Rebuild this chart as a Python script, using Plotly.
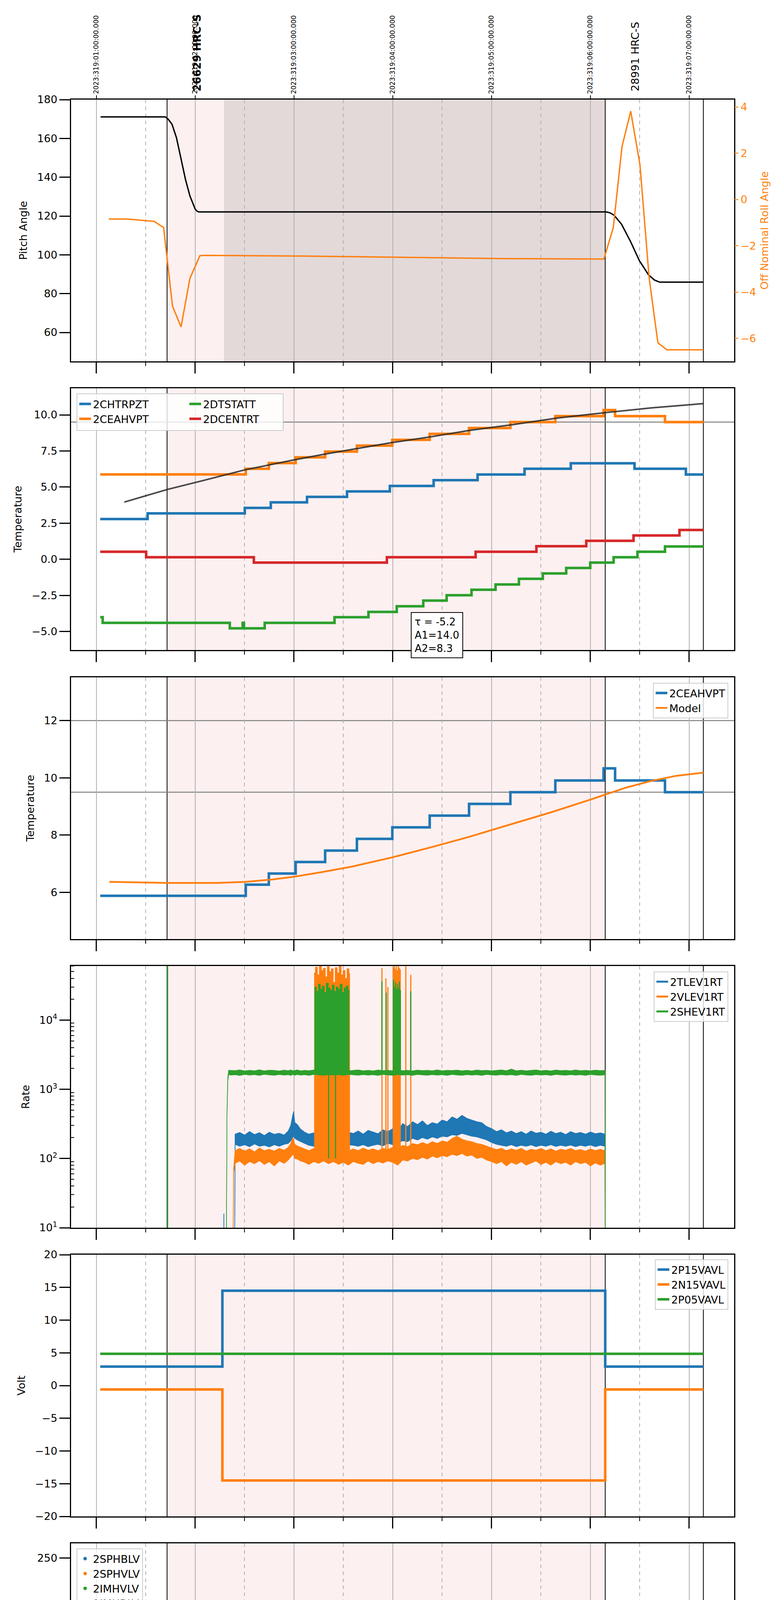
import numpy as np
import pandas as pd
import plotly.graph_objects as go

# time axis: minutes after 2023-11-14 20:00 local (= 2023:319:01:00:00 UTC)
T0 = pd.Timestamp('2023-11-14 20:00:00')
x_range_min = [-15.4, 387.3]

hour_min = [0, 60, 120, 180, 240, 300, 360]
utc_labels = ['2023:319:01:00:00.000', '2023:319:02:00:00.000', '2023:319:03:00:00.000',
              '2023:319:04:00:00.000', '2023:319:05:00:00.000', '2023:319:06:00:00.000',
              '2023:319:07:00:00.000']
half_hour_min = [30, 90, 150, 210, 270, 330]
obs_min = [61.0, 327.0]
obs_labels = ['<b>26629 HRC-S</b>', '28991 HRC-S']

pink_span = [42.9, 309.0]
slew_span = [77.5, 309.0]
event_min = [42.9, 309.0, 368.6]

# ---- panel 1: pitch / roll
pitch_t = [2.5, 41.8, 43.5, 45.9, 48.6, 51.4, 54.1, 56.8, 60.0, 61.2, 62.3,
           309.8, 312.0, 314.4, 318.9, 324.4, 329.8, 335.3, 338.9, 342.1, 368.6]
pitch_v = [171.1, 171.1, 170.0, 167.3, 160.4, 149.6, 138.8, 130.3, 123.5, 122.4, 122.1,
           122.1, 121.6, 120.4, 115.8, 106.8, 96.9, 89.7, 87.0, 85.9, 85.9]
roll_t = [7.5, 19.0, 29.6, 35.0, 40.8, 46.2, 51.4, 56.8, 62.9, 67.4, 124.9, 185.5, 246.0,
          308.2, 313.9, 319.2, 324.5, 330.1, 335.7, 341.0, 346.4, 368.6]
roll_v = [-0.84, -0.84, -0.91, -0.94, -1.21, -4.61, -5.50, -3.40, -2.42, -2.41, -2.44, -2.50, -2.55,
          -2.57, -1.21, 2.29, 3.82, 1.50, -3.40, -6.19, -6.49, -6.49]

# ---- panel 2: temperatures (step starts, values)
chtrpzt_t = [2.3, 31.1, 90.1, 105.9, 127.9, 152.2, 178.2, 204.8, 231.5, 260.0, 288.1, 326.8, 358.0, 368.6]
chtrpzt_v = [2.79, 3.18, 3.56, 3.94, 4.32, 4.70, 5.08, 5.48, 5.87, 6.27, 6.65, 6.27, 5.87, 5.87]
ceahvpt_t = [2.3, 90.7, 104.7, 121.0, 138.9, 158.2, 179.7, 202.4, 226.3, 251.4, 278.7, 308.0, 315.0, 345.3, 368.6]
ceahvpt_v = [5.88, 6.27, 6.66, 7.06, 7.46, 7.87, 8.27, 8.68, 9.09, 9.50, 9.91, 10.33, 9.91, 9.50, 9.50]
dtstatt_t = [2.3, 3.8, 81.0, 88.8, 89.6, 102.2, 144.6, 165.2, 182.4, 198.5, 212.7, 227.8, 242.4,
             256.6, 271.1, 285.3, 299.9, 314.1, 328.6, 345.3, 368.6]
dtstatt_v = [-4.01, -4.40, -4.78, -4.40, -4.78, -4.40, -4.01, -3.64, -3.25, -2.86, -2.49, -2.11, -1.74,
             -1.35, -0.98, -0.60, -0.23, 0.14, 0.52, 0.89, 0.89]
dcentrt_t = [2.3, 30.2, 95.6, 176.4, 230.3, 267.2, 297.5, 326.2, 354.1, 368.6]
dcentrt_v = [0.52, 0.14, -0.23, 0.14, 0.52, 0.91, 1.28, 1.65, 2.03, 2.03]
fit_t = [16.9, 43.2, 64.4, 90.1, 120.4, 140.1, 179.4, 203.6, 226.3, 252.1, 279.3, 309.6, 336.8, 368.6]
fit_v = [3.96, 4.84, 5.44, 6.19, 6.89, 7.31, 8.08, 8.49, 8.92, 9.31, 9.77, 10.16, 10.48, 10.78]
fit_text = 'τ = -5.2<br>A1=14.0<br>A2=8.3'

# ---- panel 3: 2CEAHVPT vs model
model_t = [7.8, 31.1, 43.2, 73.5, 90.7, 106.8, 120.4, 137.0, 155.2, 179.4, 203.6, 226.3, 251.4,
           276.3, 300.5, 321.7, 336.8, 352.0, 368.6]
model_v = [6.37, 6.35, 6.33, 6.33, 6.37, 6.45, 6.55, 6.71, 6.90, 7.22, 7.58, 7.94, 8.37,
           8.80, 9.25, 9.66, 9.89, 10.07, 10.18]

# ---- panel 4: rates (noisy bands read as lower / upper envelopes)
band_t = [84.2, 87, 90, 93, 96, 99, 102, 105, 108, 111,
          114, 116.5, 118, 119.2, 119.8, 120.5, 122, 124, 126.5, 129,
          132, 135, 138, 141, 144, 147, 150, 153, 156, 159,
          162, 165, 168, 171, 174, 177, 180, 183, 186, 189,
          192, 195, 198, 201, 204, 207, 210, 213, 216, 219,
          222, 225, 228, 231, 234, 237, 240, 243, 246, 249,
          252, 255, 258, 261, 264, 267, 270, 273, 276, 279,
          282, 285, 288, 291, 294, 297, 300, 303, 306, 308.9]
tlev_hi = [225, 238, 218, 245, 222, 236, 215, 240, 224, 232,
           218, 250, 300, 420, 480, 330, 310, 265, 240, 225,
           235, 228, 240, 222, 235, 230, 225, 240, 230, 250,
           225, 255, 240, 228, 260, 245, 270, 250, 320, 290,
           340, 310, 350, 300, 330, 315, 360, 340, 400, 370,
           420, 380, 360, 340, 330, 290, 270, 245, 260, 235,
           250, 230, 245, 225, 250, 232, 240, 225, 248, 230,
           240, 222, 245, 230, 238, 225, 242, 228, 235, 225]
tlev_lo = [160, 150, 158, 148, 162, 150, 155, 147, 158, 150,
           160, 165, 180, 200, 210, 195, 185, 175, 165, 155,
           150, 155, 150, 158, 152, 155, 150, 157, 155, 150,
           158, 148, 155, 160, 152, 165, 158, 170, 180, 175,
           195, 185, 200, 190, 205, 195, 210, 205, 220, 215,
           230, 220, 210, 205, 195, 185, 170, 160, 155, 150,
           158, 148, 155, 150, 157, 148, 155, 150, 158, 149,
           155, 150, 156, 148, 155, 150, 157, 148, 155, 150]
vlev_hi = [130, 140, 128, 138, 125, 142, 130, 136, 128, 140,
           132, 145, 165, 200, 185, 160, 152, 145, 138, 130,
           140, 132, 138, 128, 136, 130, 140, 128, 138, 130,
           142, 132, 138, 130, 140, 135, 145, 138, 155, 148,
           165, 158, 170, 160, 175, 165, 180, 172, 195, 210,
           190, 180, 175, 165, 160, 150, 142, 135, 140, 130,
           138, 132, 140, 128, 136, 132, 140, 130, 138, 128,
           136, 132, 140, 130, 135, 128, 138, 130, 136, 130]
vlev_lo = [85, 92, 80, 90, 84, 93, 82, 90, 78, 92,
           85, 95, 105, 115, 110, 100, 98, 92, 88, 82,
           90, 85, 92, 84, 90, 82, 88, 80, 90, 85,
           82, 92, 84, 90, 86, 92, 88, 80, 95, 92,
           100, 96, 104, 98, 108, 102, 110, 106, 115, 110,
           118, 108, 112, 100, 104, 95, 90, 84, 90, 78,
           88, 82, 90, 80, 86, 92, 82, 88, 80, 90,
           84, 88, 80, 90, 84, 88, 78, 86, 80, 85]
shev_lo = [1620, 1580, 1640, 1600, 1630, 1585, 1645, 1610, 1590, 1635,
           1600, 1625, 1580, 1640, 1610, 1595, 1630, 1600, 1620, 1585,
           1640, 1605, 1590, 1630, 1600, 1620, 1585, 1640, 1610, 1595,
           1630, 1600, 1620, 1585, 1640, 1605, 1590, 1630, 1600, 1620,
           1585, 1640, 1610, 1595, 1630, 1600, 1620, 1585, 1640, 1605,
           1590, 1630, 1600, 1620, 1585, 1640, 1610, 1595, 1630, 1600,
           1620, 1585, 1640, 1605, 1590, 1630, 1600, 1620, 1585, 1640,
           1610, 1595, 1630, 1600, 1620, 1585, 1640, 1605, 1590, 1620]
shev_hi = [1860, 1900, 1840, 1880, 1850, 1910, 1845, 1885, 1870, 1835,
           1890, 1855, 1900, 1845, 1875, 1860, 1905, 1840, 1880, 1855,
           1895, 1850, 1870, 1840, 1900, 1860, 1885, 1845, 1875, 1900,
           1850, 1880, 1840, 1895, 1860, 1875, 1845, 1905, 1855, 1880,
           1840, 1890, 1860, 1875, 1850, 1900, 1845, 1880, 1865, 1890,
           1850, 1875, 1840, 1895, 1860, 1880, 1845, 1870, 1900, 1855,
           1960, 1850, 1885, 1845, 1875, 1900, 1850, 1880, 1840, 1895,
           1860, 1875, 1845, 1900, 1855, 1880, 1850, 1890, 1860, 1875]
tlev_rise_t, tlev_rise_v = [84.0], [5]
vlev_rise_t, vlev_rise_lo, vlev_rise_hi = [83.0, 83.3], [5, 60], [5, 70]
shev_rise_t = [78.9, 79.3, 79.8, 80.3, 82.0]
shev_rise_lo = [5, 400, 1300, 1620, 1600]
shev_rise_hi = [5, 500, 1500, 1880, 1870]
rate_end_t, rate_end_v = [309.0], [5]
vlev_burst_t = [132.4, 133.0, 134.2, 135.4, 136.6, 137.8, 139.0, 140.2, 141.4, 142.6,
                143.8, 145.0, 146.2, 147.4, 148.6, 149.8, 151.0, 152.2, 153.4, 153.8]
vlev_burst_top = [48000, 58000, 45000, 60000, 52000, 56000, 42000, 59000, 50000, 55000,
                  35000, 57000, 48000, 60000, 45000, 52000, 40000, 55000, 47000, 30000]
shev_burst_t = [132.6, 133.6, 134.8, 136.0, 137.2, 138.4, 139.6, 140.8, 142.0, 143.2,
                144.4, 145.6, 146.8, 148.0, 149.2, 150.4, 151.6, 152.8, 153.4]
shev_burst_top = [30000, 26000, 33000, 28000, 31000, 25000, 34000, 29000, 27000, 32000,
                  26000, 30000, 28000, 33000, 25000, 29000, 31000, 27000, 24000]
vlev_spike_t = [173.4, 175.8, 177.0, 180.3, 180.9, 181.5, 182.1, 182.7, 183.3, 183.9, 184.5, 187.9, 190.9]
vlev_spike_top = [56000, 40000, 30000, 58000, 62000, 55000, 60000, 52000, 61000, 57000, 54000, 60000, 45000]
shev_spike_t = [43.2, 173.4, 176.0, 180.4, 181.0, 181.6, 182.2, 182.8, 183.4, 184.0, 184.6, 190.9]
shev_spike_lo = [5, 1700, 1700, 1700, 1700, 1700, 1700, 1700, 1700, 1700, 1700, 1700]
shev_spike_top = [1e6, 36000, 25000, 38000, 30000, 35000, 28000, 33000, 29000, 36000, 27000, 26000]
shev_dip_t, shev_dip_v = [141.0, 145.2], [100, 100]
tlev_blip_t, tlev_blip_v = [77.4], [16]

# ---- panel 5: voltages
volt_t = [2.3, 76.5, 309.0, 368.6]
p15vavl_v = [2.9, 14.5, 2.9, 2.9]
n15vavl_v = [-0.6, -14.5, -0.6, -0.6]
p05_t, p05vavl_v = [2.3, 368.6], [4.85, 4.85]

# ---- panel 6: HV monitor (turn-on decay, then plateau)
hv_on_t = [78.8, 79.2, 79.6, 80.0, 80.5, 81.0, 81.6, 82.2, 83.0, 84.0]
sphblv_on = [126, 118, 110, 103, 96, 90, 86, 82, 79, 77.5]
sphvlv_on = [124, 115, 107, 99, 92, 86, 81, 77, 74, 72]
hv_plateau_t = [84.0, 309.0]
sphblv_plateau = [77.5, 77.5]
sphvlv_plateau = [71.5, 71.5]
sphvlv_out_t = [131.7, 138.2, 150.2, 182.7, 187.3, 191.0, 195.7]
sphvlv_out_v = [127, 127, 127, 127, 127, 127, 127]

# ---- panel 7: detector temps
spinatm_t = [77.4, 81.7, 85.3, 85.9, 199.1, 254.2, 302.3, 309.0]
spinatm_v = [2.81, 3.27, 2.81, 3.27, 3.69, 4.15, 4.60, 4.60]
sphvatm_t = [77.4, 86.2, 90.7, 95.3, 99.8, 104.3, 109.8, 115.2, 121.3, 128.6, 137.0, 145.5, 155.2,
             166.7, 179.4, 192.1, 208.2, 224.8, 243.0, 263.3, 286.9, 309.0]
sphvatm_v = [14.99, 15.26, 15.55, 15.84, 16.13, 16.40, 16.69, 16.97, 17.25, 17.53, 17.81, 18.11, 18.40,
             18.68, 18.97, 19.27, 19.58, 19.86, 20.15, 20.47, 20.79, 20.79]
iminatm_t = [77.4, 116.2, 116.8, 243.0, 296.5, 309.0]
iminatm_v = [1.09, 0.60, 1.09, 1.50, 1.95, 1.95]
imhvatm_t = [77.39, 77.4, 102.8, 124.0, 142.2, 158.8, 176.7, 195.2, 215.7, 233.9, 255.1, 277.2, 300.5,
             309.0, 309.2, 309.5]
imhvatm_v = [-5, 14.43, 14.70, 14.99, 15.26, 15.55, 15.84, 16.13, 16.40, 16.69, 16.97, 17.25, 17.53,
             17.53, 40, -5]
glitch1_t = [132.0, 133.6, 136.8, 137.6, 138.4, 139.2, 140.0, 140.8, 141.6, 143.2,
             144.0, 144.8, 145.6, 146.4, 147.2, 148.0, 148.8, 149.6, 153.4]
glitch2_t = [173.4, 175.6, 180.2, 181.0, 181.8, 182.6, 183.4, 184.2, 185.0, 187.9, 190.9]
spinatm_glitch = [-1.0, -1.0]
sphvatm_glitch = [10.5, 11.0]
iminatm_glitch = [3.35, 3.35]
imhvatm_glitch = [18.2, 19.05]
sphvatm_drop_t, sphvatm_drop_v = [144.6], [0.7]

# ---- panel 8: FEA temps
fhtrmzt_t = [47.6, 47.7, 89.2, 96.8, 104.7, 111.9, 119.8, 127.0, 134.6, 142.2, 150.0, 157.6, 166.4,
             174.3, 182.4, 190.9, 200.0, 208.5, 211.9, 212.3, 216.9, 217.3, 226.3, 235.4, 245.1,
             255.1, 264.2, 274.2, 284.4, 294.4, 305.0, 337.4, 357.4, 368.6]
fhtrmzt_v = [-9.0, -7.99, -7.58, -7.18, -6.78, -6.38, -5.98, -5.59, -5.20, -4.80, -4.41, -4.02, -3.64,
             -3.26, -2.88, -2.49, -2.11, -1.73, -0.57, -1.73, -2.55, -1.35, -0.96, -0.59, -0.22,
             0.16, 0.53, 0.91, 1.28, 1.66, 2.03, 1.66, 1.28, 1.28]
fradpyt_t = [110.0, 110.1, 118.0, 125.5, 134.0, 142.2, 150.0, 158.2, 166.7, 175.5, 184.6, 193.0, 202.1,
             211.8, 221.2, 230.9, 240.6, 251.1, 261.1, 271.7, 282.3, 294.4, 305.3, 320.2, 328.6, 358.6, 368.6]
fradpyt_v = [-9.0, -7.99, -7.58, -7.18, -6.78, -6.38, -5.98, -5.59, -5.20, -4.80, -4.41, -4.02, -3.64,
             -3.26, -2.88, -2.49, -2.11, -1.73, -1.35, -0.96, -0.59, -0.22, 0.16, -0.22, -0.59, -0.96, -0.96]
fepratm_t = [78.85, 78.9, 80.0, 81.0, 83.2, 85.6, 90.7, 95.3, 100.1, 106.8, 113.4, 121.0, 128.6, 137.0,
             146.1, 152.2, 159.7, 167.3, 177.9, 185.5, 194.6, 206.1, 215.7, 227.2, 236.9, 249.0,
             260.5, 271.7, 284.7, 297.5, 309.0]
fepratm_v = [-9.0, -7.07, -6.68, -6.24, -5.81, -5.46, -5.05, -4.63, -4.24, -3.84, -3.41, -3.00, -2.62, -2.25,
             -1.83, -1.40, -1.02, -0.61, -0.17, 0.22, 0.67, 1.09, 1.53, 1.94, 2.38, 2.81,
             3.25, 3.71, 4.15, 4.60, 4.60]
fe00atm_t = [77.39, 77.4, 82.6, 90.4, 95.6, 100.7, 106.8, 111.6, 116.5, 121.3, 128.0, 135.5, 141.6,
             152.2, 158.2, 164.3, 170.9, 178.8, 185.5, 191.5, 197.6, 205.5, 212.7, 219.4, 227.2,
             233.9, 241.5, 249.6, 258.1, 264.8, 273.3, 280.8, 297.5, 309.0, 309.2, 309.5]
fe00atm_v = [-9.0, -5.98, -5.59, -5.24, -4.85, -4.54, -4.24, -3.83, -3.45, -3.10, -2.77, -2.45, -1.88,
             -1.42, -1.09, -0.74, -0.45, -0.17, 0.22, 0.52, 0.81, 1.14, 1.44, 1.77, 2.07,
             2.36, 2.66, 2.99, 3.28, 3.55, 3.87, 4.15, 4.45, 4.45, 10.0, -10.0]
fepratm_glitch = [-4.67, -4.67]
fe00atm_glitch = [10.0, 10.0]
fe00atm_full_t = [141.0, 145.2]
fe00atm_blip_t = [98.6, 124.0, 205.8, 230.9, 249.2, 267.2]
fe00atm_blip_v = [-5.2, -4.6, 1.75, 2.75, 3.3, 2.9]

BLUE, ORANGE, GREEN, RED = '#1f77b4', '#ff7f0e', '#2ca02c', '#d62728'
FONT = 'DejaVu Sans'

# layout geometry (pixels in a 2000 x 6200 page)
panel_tops = [247, 986, 1726, 2465, 3204, 3943, 4682, 5421]
panel_h, plot_bottom, plot_h = 670, 6091, 5844


def ptop(i):
    return panel_tops[i - 1]


def T(mins):
    return list(T0 + pd.to_timedelta(np.asarray(mins, dtype=float), unit='min'))


def at(m):
    return T0 + pd.Timedelta(minutes=float(m))


def ax(i):
    return ('x' if i == 1 else f'x{i}'), ('y' if i == 1 else f'y{i}')


def py(p):
    return (plot_bottom - p) / plot_h


def px(p):
    return (p - 174) / 1698


fig = go.Figure()


def line(i, t, v, color, width, name=None, legend='legend', shape='linear', yaxis=None):
    xa, ya = ax(i)
    fig.add_trace(go.Scatter(x=T(t), y=v, mode='lines', name=name, legend=legend,
                             showlegend=name is not None, hoverinfo='skip',
                             line=dict(color=color, width=width, shape=shape),
                             xaxis=xa, yaxis=yaxis or ya))


def segments(i, t, y0, y1, color, width):
    xa, ya = ax(i)
    xs, ys = [], []
    for a, b, c in zip(t, y0, y1):
        xs += [at(a), at(a), None]
        ys += [b, c, None]
    fig.add_trace(go.Scatter(x=xs, y=ys, mode='lines', showlegend=False, hoverinfo='skip',
                             line=dict(color=color, width=width), xaxis=xa, yaxis=ya))


def band(i, t, lo, hi, color):
    xa, ya = ax(i)
    fig.add_trace(go.Scatter(x=T(t), y=lo, mode='lines', showlegend=False, hoverinfo='skip',
                             line=dict(color=color, width=1.5), xaxis=xa, yaxis=ya))
    fig.add_trace(go.Scatter(x=T(t), y=hi, mode='lines', showlegend=False, hoverinfo='skip',
                             line=dict(color=color, width=1.5), fill='tonexty', fillcolor=color,
                             xaxis=xa, yaxis=ya))


def burst(i, t, top, base, color):
    xa, ya = ax(i)
    fig.add_trace(go.Scatter(x=T([t[0]] + t + [t[-1]]), y=[base] + top + [base], mode='lines',
                             fill='toself', fillcolor=color, showlegend=False, hoverinfo='skip',
                             line=dict(color=color, width=1.5, shape='hv'), xaxis=xa, yaxis=ya))


def step_at(ts, vs, t):
    k = int(np.searchsorted(ts, t, side='right')) - 1
    return vs[max(k, 0)]


def glitches(i, ts, vs, ext, color, width=5):
    for g, e in zip([glitch1_t, glitch2_t], ext):
        segments(i, g, [step_at(ts, vs, t) for t in g], [e] * len(g), color, width)


# panel 1
line(1, pitch_t, pitch_v, 'black', 3.5)
line(1, roll_t, roll_v, ORANGE, 3.5, yaxis='y9')
fig.add_trace(go.Scatter(x=[None], y=[None], mode='lines', showlegend=False, xaxis='x9', yaxis='y'))

# panel 2
line(2, chtrpzt_t, chtrpzt_v, BLUE, 6.5, '2CHTRPZT', 'legend', 'hv')
line(2, ceahvpt_t, ceahvpt_v, ORANGE, 6.5, '2CEAHVPT', 'legend', 'hv')
line(2, dtstatt_t, dtstatt_v, GREEN, 6.5, '2DTSTATT', 'legend2', 'hv')
line(2, dcentrt_t, dcentrt_v, RED, 6.5, '2DCENTRT', 'legend2', 'hv')
line(2, fit_t, fit_v, 'rgba(40,40,40,0.85)', 4)

# panel 3
line(3, ceahvpt_t, ceahvpt_v, BLUE, 6.5, '2CEAHVPT', 'legend3', 'hv')
line(3, model_t, model_v, ORANGE, 4.5, 'Model', 'legend3')

# panel 4
band(4, tlev_rise_t + band_t + rate_end_t, tlev_rise_v + tlev_lo + rate_end_v,
     tlev_rise_v + tlev_hi + rate_end_v, BLUE)
segments(4, tlev_blip_t, [5], tlev_blip_v, BLUE, 2)
band(4, vlev_rise_t + band_t + rate_end_t, vlev_rise_lo + vlev_lo + rate_end_v,
     vlev_rise_hi + vlev_hi + rate_end_v, ORANGE)
burst(4, vlev_burst_t, vlev_burst_top, 100, ORANGE)
segments(4, vlev_spike_t, [100] * len(vlev_spike_t), vlev_spike_top, ORANGE, 3)
band(4, shev_rise_t + band_t + rate_end_t, shev_rise_lo + shev_lo + rate_end_v,
     shev_rise_hi + shev_hi + rate_end_v, GREEN)
burst(4, shev_burst_t, shev_burst_top, 1700, GREEN)
segments(4, shev_spike_t, shev_spike_lo, shev_spike_top, GREEN, 3)
segments(4, shev_dip_t, [1700, 1700], shev_dip_v, GREEN, 3)
for name, c in [('2TLEV1RT', BLUE), ('2VLEV1RT', ORANGE), ('2SHEV1RT', GREEN)]:
    fig.add_trace(go.Scatter(x=[None], y=[None], mode='lines', name=name, legend='legend4',
                             line=dict(color=c, width=5), xaxis='x4', yaxis='y4'))

# panel 5
line(5, volt_t, p15vavl_v, BLUE, 6.5, '2P15VAVL', 'legend5', 'hv')
line(5, volt_t, n15vavl_v, ORANGE, 6.5, '2N15VAVL', 'legend5', 'hv')
line(5, p05_t, p05vavl_v, GREEN, 6.5, '2P05VAVL', 'legend5', 'hv')

# panel 6
hv_series = [('2SPHBLV', BLUE, hv_on_t, sphblv_on, sphblv_plateau, [], []),
             ('2SPHVLV', ORANGE, hv_on_t, sphvlv_on, sphvlv_plateau, sphvlv_out_t, sphvlv_out_v),
             ('2IMHVLV', GREEN, [], [], None, [], []),
             ('2IMHBLV', RED, [], [], None, [], [])]
for name, c, t_on, v_on, plat, t_out, v_out in hv_series:
    fig.add_trace(go.Scatter(x=T(t_on + t_out) if t_on else [None], y=(v_on + v_out) if t_on else [None],
                             mode='markers', name=name, legend='legend6', hoverinfo='skip',
                             marker=dict(color=c, size=9), xaxis='x6', yaxis='y6'))
    if plat:
        line(6, hv_plateau_t, plat, c, 10)

# panel 7
line(7, spinatm_t, spinatm_v, BLUE, 6.5, '2SPINATM', 'legend7', 'hv')
glitches(7, spinatm_t, spinatm_v, spinatm_glitch, BLUE)
line(7, sphvatm_t, sphvatm_v, ORANGE, 6.5, '2SPHVATM', 'legend7', 'hv')
glitches(7, sphvatm_t, sphvatm_v, sphvatm_glitch, ORANGE)
segments(7, sphvatm_drop_t, [10.5], sphvatm_drop_v, ORANGE, 2.5)
line(7, iminatm_t, iminatm_v, GREEN, 6.5, '2IMINATM', 'legend7', 'hv')
glitches(7, iminatm_t, iminatm_v, iminatm_glitch, GREEN)
line(7, imhvatm_t, imhvatm_v, RED, 6.5, '2IMHVATM', 'legend7', 'hv')
glitches(7, imhvatm_t, imhvatm_v, imhvatm_glitch, RED)

# panel 8
line(8, fhtrmzt_t, fhtrmzt_v, BLUE, 6.5, '2FHTRMZT', 'legend8', 'hv')
line(8, fradpyt_t, fradpyt_v, ORANGE, 6.5, '2FRADPYT', 'legend8', 'hv')
line(8, fepratm_t, fepratm_v, GREEN, 6.5, '2FEPRATM', 'legend8', 'hv')
glitches(8, fepratm_t, fepratm_v, fepratm_glitch, GREEN)
line(8, fe00atm_t, fe00atm_v, RED, 6.5, '2FE00ATM', 'legend8', 'hv')
glitches(8, fe00atm_t, fe00atm_v, fe00atm_glitch, RED)
segments(8, fe00atm_full_t, [-10, -10], [10, 10], RED, 5)
segments(8, fe00atm_blip_t, [step_at(fe00atm_t, fe00atm_v, t) for t in fe00atm_blip_t], fe00atm_blip_v, RED, 4)

# ---------------- axes ----------------
x_range = [at(x_range_min[0]), at(x_range_min[1])]
log_minor = [k * 10 ** e for e in range(1, 5) for k in range(2, 10)]
y_specs = {
    1: dict(title='Pitch Angle', range=[45.1, 180], dtick=20, tick0=0),
    2: dict(title='Temperature', range=[-6.28, 11.84], dtick=2.5, tick0=0, tickformat='.1f'),
    3: dict(title='Temperature', range=[4.37, 13.51], dtick=2, tick0=0),
    4: dict(title='Rate', type='log', range=[1, 4.78], tickmode='array', tickvals=[10, 100, 1000, 10000],
            ticktext=['10<sup>1</sup>', '10<sup>2</sup>', '10<sup>3</sup>', '10<sup>4</sup>'],
            minor=dict(ticks='inside', ticklen=8, tickwidth=1.5, tickcolor='black',
                       tickmode='array', tickvals=log_minor)),
    5: dict(title='Volt', range=[-20, 20], dtick=5, tick0=0),
    6: dict(title='HV Monitor', range=[0, 265], dtick=50, tick0=0),
    7: dict(title='Detector Temp', range=[-0.43, 21.6], dtick=2.5, tick0=0, tickformat='.1f'),
    8: dict(title='FEA Temp', range=[-8.28, 4.41], dtick=2, tick0=0),
}
axes = {}
for i in range(1, 9):
    xa, ya = ax(i)
    top = ptop(i)
    dom = [py(top + panel_h), py(top)]
    axes['xaxis' if i == 1 else f'xaxis{i}'] = dict(
        domain=[0, 1], anchor=ya, type='date', range=x_range,
        tick0=at(0), dtick=3600000, tickformat='%Hh', ticks='outside', ticklen=28, tickwidth=3,
        tickcolor='black', showticklabels=(i == 8), tickfont=dict(size=27),
        showgrid=True, gridcolor='#b0b0b0', gridwidth=1.5,
        minor=dict(tick0=at(0), dtick=1800000, ticks='outside', ticklen=9, tickwidth=2,
                   tickcolor='black', showgrid=True, gridcolor='#b0b0b0', gridwidth=1.5,
                   griddash='dash'),
        showline=True, linecolor='black', linewidth=2.5, mirror=True, zeroline=False,
        automargin=False)
    spec = dict(y_specs[i])
    title = spec.pop('title')
    axes['yaxis' if i == 1 else f'yaxis{i}'] = dict(
        domain=dom, anchor=xa, ticks='outside', ticklen=27, tickwidth=3, tickcolor='black',
        tickfont=dict(size=27), showgrid=False, zeroline=False, showline=True,
        linecolor='black', linewidth=2.5, mirror=True, automargin=False,
        title=dict(text=title, font=dict(size=27), standoff=18), **spec)
axes['xaxis8']['title'] = dict(text='2023-11-15 (319)', font=dict(size=28), standoff=12)
axes['xaxis8']['ticklabelstandoff'] = -8

axes['xaxis9'] = dict(overlaying='x', side='top', anchor='y', type='date', range=x_range,
                      tickmode='array', tickvals=T(hour_min), ticktext=utc_labels, tickangle=-90,
                      ticks='outside', ticklen=10, tickwidth=2, tickcolor='black',
                      tickfont=dict(size=17), showgrid=False, showline=False, zeroline=False,
                      automargin=False)
axes['yaxis9'] = dict(overlaying='y', side='right', anchor='x', range=[-6.99, 4.32],
                      tickmode='array', tickvals=[-6, -4, -2, 0, 2, 4], ticks='outside', ticklen=10,
                      tickwidth=2, tickcolor=ORANGE, tickfont=dict(size=27, color=ORANGE),
                      showgrid=False, showline=False, zeroline=False, automargin=False,
                      title=dict(text='Off Nominal Roll Angle', font=dict(size=27, color=ORANGE),
                                 standoff=12))

# ---------------- shapes ----------------
shapes = []
for i in range(1, 9):
    xa, ya = ax(i)
    shapes.append(dict(type='rect', xref=xa, yref=f'{ya} domain', x0=at(pink_span[0]), x1=at(pink_span[1]),
                       y0=0, y1=1, fillcolor='#fdf0f0', line=dict(width=0), layer='below'))
    if i == 1:
        shapes.append(dict(type='rect', xref=xa, yref=f'{ya} domain', x0=at(slew_span[0]),
                           x1=at(slew_span[1]), y0=0, y1=1, fillcolor='#e3d9d9',
                           line=dict(width=0), layer='below'))
    for e in event_min:
        shapes.append(dict(type='line', xref=xa, yref=f'{ya} domain', x0=at(e), x1=at(e), y0=0, y1=1,
                           line=dict(color='black', width=2), layer='below'))
for xref, yref, yv in [('x2 domain', 'y2', 9.5), ('x3 domain', 'y3', 12), ('x3 domain', 'y3', 9.5)]:
    shapes.append(dict(type='line', xref=xref, yref=yref, x0=0, x1=1, y0=yv, y1=yv,
                       line=dict(color='#808080', width=2.5), layer='below'))
shapes.append(dict(type='rect', xref='paper', yref='paper', x0=px(189), x1=px(717),
                   y0=py(ptop(2) + 108), y1=py(ptop(2) + 14),
                   fillcolor='rgba(255,255,255,0.8)', line=dict(color='#cccccc', width=2), layer='above'))

# ---------------- annotations ----------------
annotations = [dict(xref='paper', yref='paper', x=px(1044), y=py(ptop(2) + 573), xanchor='left', yanchor='top',
                    text=fit_text, align='left', showarrow=False, font=dict(size=26),
                    bgcolor='white', bordercolor='black', borderwidth=2, borderpad=8)]
for m, txt in zip(obs_min, obs_labels):
    annotations.append(dict(xref='x', yref='y domain', x=at(m), y=1, yshift=19, xanchor='center',
                            yanchor='bottom', text=txt, textangle=-90, showarrow=False,
                            font=dict(size=27)))
for m in half_hour_min:
    annotations.append(dict(xref='x8', yref='y8 domain', x=at(m), y=0, yshift=-4, xanchor='center',
                            yanchor='top', text='30', showarrow=False, font=dict(size=16)))

leg = dict(font=dict(size=27), bgcolor='rgba(255,255,255,0.8)', bordercolor='#cccccc', borderwidth=2,
           tracegroupgap=0, traceorder='normal')
fig.update_layout(
    width=2000, height=6200, template='none',
    margin=dict(l=174, r=128, t=247, b=109),
    font=dict(family=FONT, size=27, color='black'),
    plot_bgcolor='white', paper_bgcolor='white',
    shapes=shapes, annotations=annotations,
    legend=dict(x=px(190), y=py(ptop(2) + 16), xanchor='left', yanchor='top', font=dict(size=27),
                bgcolor='rgba(0,0,0,0)', borderwidth=0, traceorder='normal'),
    legend2=dict(x=px(472), y=py(ptop(2) + 16), xanchor='left', yanchor='top', font=dict(size=27),
                 bgcolor='rgba(0,0,0,0)', borderwidth=0, traceorder='normal'),
    legend3=dict(x=px(1857), y=py(ptop(3) + 14), xanchor='right', yanchor='top', **leg),
    legend4=dict(x=px(1857), y=py(ptop(4) + 14), xanchor='right', yanchor='top', **leg),
    legend5=dict(x=px(1857), y=py(ptop(5) + 12), xanchor='right', yanchor='top', **leg),
    legend6=dict(x=px(188), y=py(ptop(6) + 13), xanchor='left', yanchor='top', **leg),
    legend7=dict(x=px(1857), y=py(ptop(7) + 12), xanchor='right', yanchor='top', **leg),
    legend8=dict(x=px(1857), y=py(ptop(8) + panel_h - 13), xanchor='right', yanchor='bottom', **leg),
    **axes)

fig.write_html("out.html")
